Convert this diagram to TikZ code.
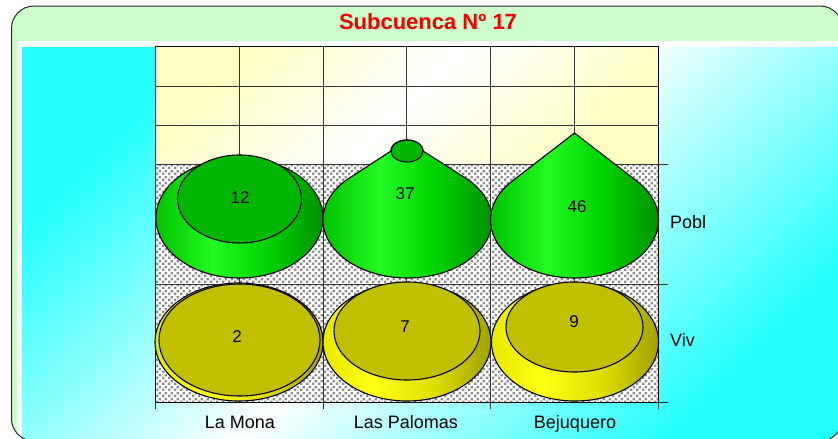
\documentclass[tikz,border=0pt]{standalone}
\usepackage{fontspec}
\setmainfont{Liberation Sans}
\usetikzlibrary{patterns.meta}

\definecolor{boxgreen}{RGB}{204,255,204}
\definecolor{cyanbg}{RGB}{35,255,255}
\definecolor{ylbg}{RGB}{255,255,196}
\definecolor{titlered}{RGB}{245,0,0}
\definecolor{dotgray}{RGB}{140,140,140}
\definecolor{gtop}{RGB}{0,182,0}
\definecolor{gs1}{RGB}{0,195,0}
\definecolor{gs2}{RGB}{35,250,35}
\definecolor{gs3}{RGB}{0,212,0}
\definecolor{gs4}{RGB}{0,145,0}
\definecolor{ytop}{RGB}{192,192,0}
\definecolor{ys1}{RGB}{232,232,0}
\definecolor{ys2}{RGB}{255,255,20}
\definecolor{ys3}{RGB}{222,222,0}
\definecolor{ys4}{RGB}{160,160,0}

\pgfdeclarehorizontalshading{greenside}{100bp}{color(0bp)=(gs1); color(25bp)=(gs1); color(42bp)=(gs2); color(58bp)=(gs3); color(75bp)=(gs4); color(100bp)=(gs4)}
\pgfdeclarehorizontalshading{yellowside}{100bp}{color(0bp)=(ys1); color(25bp)=(ys1); color(40bp)=(ys2); color(58bp)=(ys3); color(75bp)=(ys4); color(100bp)=(ys4)}

\tikzdeclarepattern{
  name=grdots,
  type=uncolored,
  bottom left={(0pt,0pt)},
  top right={(6pt,6pt)},
  tile size={(6pt,6pt)},
  code={
    \fill (0pt,0pt) rectangle (2.7pt,2.7pt);
    \fill (3pt,3pt) rectangle (5.7pt,5.7pt);
  }
}

\newcommand\conesil[5]{%
  \pgfmathsetmacro\csA{asin(-(#4)/((#2)-(#5)))}%
  \pgfmathsetmacro\csB{180-\csA}%
  \shadedraw[shading=greenside, outl] (#1,#5) -- plot[domain=\csA:\csB, samples=90, variable=\t] ({#1+#3*cos(\t)},{#2+#4*sin(\t)}) -- cycle;}

\begin{document}
\begin{tikzpicture}[x=1pt, y=-1pt, line join=round,
  gridl/.style={line width=0.7pt, draw=black!80},
  outl/.style={draw=black, line width=1.1pt},
  lbl/.style={font=\fontsize{18}{20}\selectfont, inner sep=0pt},
  numl/.style={font=\fontsize{17}{19}\selectfont, inner sep=0pt}]
\useasboundingbox (0,0) rectangle (838,439);
\fill[white] (0,0) rectangle (838,439);
% outer frame and panels
\begin{scope}
  \clip[rounded corners=22.5pt] (11.5,6) rectangle (842.5,441);
  \fill[boxgreen] (0,0) rectangle (850,450);
  \fill[white] (16.5,41) rectangle (850,450);
  \shade[top color=cyanbg, bottom color=cyanbg, middle color=white, shading angle=45] (22,47) rectangle (845,445);
\end{scope}
\draw[line width=1pt, draw=black!85, rounded corners=22.5pt] (11.5,6) rectangle (842.5,441);

% plot area
\shade[top color=ylbg, bottom color=ylbg, middle color=white, shading angle=45] (155,46) rectangle (658,164);
\fill[white] (155,164) rectangle (658,402);
\fill[pattern=grdots, pattern color=dotgray] (155,164) rectangle (658,402);
\foreach \x in {239,323,406,490,574} \draw[gridl] (\x,46) -- (\x,402);
\foreach \y in {86,125} \draw[gridl] (155,\y) -- (658,\y);
\foreach \y in {164,284,402} \draw[gridl] (155,\y) -- (668,\y);
\foreach \x in {155,323,490,658} \draw[gridl] (\x,402) -- (\x,409);
\draw[line width=0.9pt] (155,46) rectangle (658,402);

% Pobl row
\shadedraw[shading=greenside, outl] (239.5,218) ellipse [x radius=83.5, y radius=60];
\filldraw[fill=gtop, outl] (239.5,199) ellipse [x radius=62, y radius=44];

\pgfmathsetmacro\pa{asin(-58/85)}
\pgfmathsetmacro\pb{180-\pa}
\shadedraw[shading=greenside, outl] (423,151) -- plot[domain=\pa:\pb, samples=90, variable=\t] ({407.5+84.5*cos(\t)},{220+58*sin(\t)}) -- (391,151) -- plot[domain=180:360, samples=40, variable=\t] ({407+16*cos(\t)},{151+11*sin(\t)}) -- cycle;
\filldraw[fill=gtop, outl] (407,151) ellipse [x radius=16, y radius=11];

\conesil{574.5}{220}{84}{58}{133}

% Viv row
\shadedraw[shading=yellowside, outl] (239,342) ellipse [x radius=84, y radius=59];
\filldraw[fill=ytop, outl] (239.5,340) ellipse [x radius=80.5, y radius=56];
\shadedraw[shading=yellowside, outl] (407,342) ellipse [x radius=84, y radius=59];
\filldraw[fill=ytop, outl] (407,331) ellipse [x radius=73, y radius=49];
\shadedraw[shading=yellowside, outl] (575,342) ellipse [x radius=83.5, y radius=59];
\filldraw[fill=ytop, outl] (574.5,327) ellipse [x radius=68.5, y radius=45];

% values
\node[numl] (v12) at (240,198) {12};
\node[numl] (v37) at (405,194) {37};
\node[numl] (v46) at (577,207) {46};
\node[numl] (v2) at (237,337) {2};
\node[numl] (v7) at (405,327) {7};
\node[numl] (v9) at (574,322) {9};

% labels
\node[lbl, anchor=base] (c1) at (240,428) {La Mona};
\node[lbl, anchor=base] (c2) at (406,428) {Las Palomas};
\node[lbl, anchor=base] (c3) at (575,428) {Bejuquero};
\node[lbl, anchor=base west] (s1) at (670,228) {Pobl};
\node[lbl, anchor=base west] (s2) at (670,346) {Viv};

\node[font=\bfseries\fontsize{22}{24}\selectfont, text=titlered, anchor=base, inner sep=0pt] (title) at (428,29) {Subcuenca Nº 17};
\end{tikzpicture}
\end{document}
